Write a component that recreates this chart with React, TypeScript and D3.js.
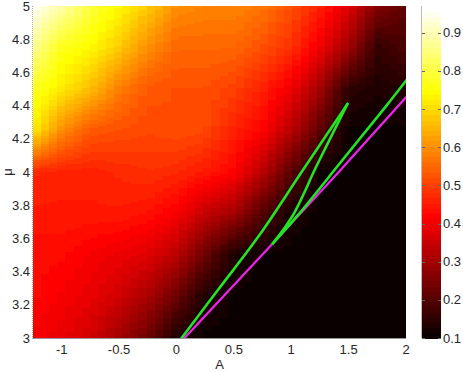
import React from 'react'
import * as d3 from 'd3'

// grid: columns are A, rows are mu
const aValues = [-1.25, -1, -0.75, -0.5, -0.25, 0, 0.25, 0.5, 0.75, 1, 1.25, 1.5, 1.75, 2]
const muValues = [3, 3.25, 3.5, 3.75, 4, 4.25, 4.5, 4.75, 5]

const rowMu300 = [0.41, 0.39, 0.36, 0.3, 0.23, 0.13, 0.11, 0.11, 0.11, 0.11, 0.11, 0.11, 0.11, 0.11]
const rowMu325 = [0.43, 0.41, 0.39, 0.36, 0.31, 0.23, 0.13, 0.11, 0.11, 0.11, 0.11, 0.11, 0.11, 0.11]
const rowMu350 = [0.43, 0.43, 0.41, 0.395, 0.38, 0.33, 0.23, 0.13, 0.11, 0.11, 0.11, 0.11, 0.11, 0.11]
const rowMu375 = [0.45, 0.45, 0.45, 0.45, 0.44, 0.41, 0.345, 0.3, 0.2, 0.12, 0.11, 0.11, 0.11, 0.11]
const rowMu400 = [0.47, 0.46, 0.46, 0.47, 0.48, 0.47, 0.45, 0.42, 0.33, 0.21, 0.11, 0.11, 0.11, 0.11]
const rowMu425 = [0.72, 0.6, 0.53, 0.52, 0.51, 0.52, 0.51, 0.46, 0.42, 0.33, 0.21, 0.11, 0.11, 0.11]
const rowMu450 = [0.78, 0.72, 0.66, 0.58, 0.53, 0.52, 0.52, 0.5, 0.46, 0.4, 0.3, 0.15, 0.13, 0.14]
const rowMu475 = [0.87, 0.77, 0.74, 0.68, 0.6, 0.55, 0.55, 0.55, 0.52, 0.48, 0.4, 0.3, 0.16, 0.19]
const rowMu500 = [0.96, 0.89, 0.8, 0.74, 0.68, 0.6, 0.59, 0.59, 0.57, 0.52, 0.46, 0.38, 0.26, 0.21]
const valueRows = [rowMu300, rowMu325, rowMu350, rowMu375, rowMu400, rowMu425, rowMu450, rowMu475, rowMu500]

// green curve: outer branch -> upper cusp -> inner branch -> lower cusp -> lower branch
const greenA = [0.045, 0.361, 0.723, 1.102, 1.49, 1.36, 1.216, 1.015, 0.84, 1.058, 1.45, 1.83, 2.0]
const greenMu = [3.0, 3.289, 3.62, 4.012, 4.41, 4.23, 4.03, 3.74, 3.57, 3.74, 4.075, 4.4, 4.55]
const greenCusps = [4, 8]
const magentaA = [0.07, 0.8, 1.4, 2.0]
const magentaMu = [3.0, 3.54, 3.99, 4.45]

const xTicks = [-1, -0.5, 0, 0.5, 1, 1.5, 2]
const yTicks = [3, 3.2, 3.4, 3.6, 3.8, 4, 4.2, 4.4, 4.6, 4.8, 5]
const cbTicks = [0.1, 0.2, 0.3, 0.4, 0.5, 0.6, 0.7, 0.8, 0.9]

const W = 463
const H = 372
const left = 33, right = 406, top = 6, bottom = 338
const cbLeft = 422, cbRight = 441
const cMin = 0.1, cMax = 0.97
const font = '"Liberation Sans", Arial, sans-serif'
const txt = '#262626'

// matlab hot(64)
function hot(v: number) {
  const m = 64, n = 24
  let idx = Math.floor(((v - cMin) / (cMax - cMin)) * m)
  idx = Math.max(0, Math.min(m - 1, idx)) + 1
  const r = idx <= n ? idx / n : 1
  const g = idx <= n ? 0 : idx <= 2 * n ? (idx - n) / n : 1
  const b = idx <= 2 * n ? 0 : (idx - 2 * n) / (m - 2 * n)
  return d3.rgb(r * 255, g * 255, b * 255).formatHex()
}

function sample(a: number, mu: number) {
  const i = Math.max(0, Math.min(aValues.length - 2, d3.bisectRight(aValues, a) - 1))
  const j = Math.max(0, Math.min(muValues.length - 2, d3.bisectRight(muValues, mu) - 1))
  const fa = (a - aValues[i]) / (aValues[i + 1] - aValues[i])
  const fm = (mu - muValues[j]) / (muValues[j + 1] - muValues[j])
  const v0 = valueRows[j][i] * (1 - fa) + valueRows[j][i + 1] * fa
  const v1 = valueRows[j + 1][i] * (1 - fa) + valueRows[j + 1][i + 1] * fa
  return v0 * (1 - fm) + v1 * fm
}

export default function App() {
  const x = d3.scaleLinear().domain([-1.25, 2]).range([left, right])
  const y = d3.scaleLinear().domain([3, 5]).range([bottom, top])
  const cb = d3.scaleLinear().domain([cMin, cMax]).range([bottom, top])

  // shaded cells, columns like the original's vertical bands
  const nCols = 46, nRows = 166
  const aStep = 3.25 / nCols, mStep = 2 / nRows
  const cells: { x: number; y: number; w: number; h: number; c: string }[] = []
  for (let ci = 0; ci < nCols; ci++) {
    const a0 = -1.25 + ci * aStep
    for (let ri = 0; ri < nRows; ri++) {
      const m0 = 3 + ri * mStep
      cells.push({
        x: x(a0),
        y: y(m0 + mStep),
        w: x(a0 + aStep) - x(a0) + 0.4,
        h: y(m0) - y(m0 + mStep) + 0.4,
        c: hot(sample(a0 + aStep / 2, m0 + mStep / 2)),
      })
    }
  }

  const curve = d3.line<number>()
    .x(i => x(greenA[i]))
    .y(i => y(greenMu[i]))
    .curve(d3.curveCatmullRom.alpha(0.5))
  const bounds = [0, ...greenCusps, greenA.length - 1]
  const greenPaths = bounds.slice(1).map((b, k) => curve(d3.range(bounds[k], b + 1)) || '')

  const magentaPath = d3.line<number>()
    .x(i => x(magentaA[i]))
    .y(i => y(magentaMu[i]))(d3.range(magentaA.length)) || ''

  const cbLevels = d3.range(64)

  return (
    <svg width={W} height={H} style={{ position: 'absolute', left: 0, top: 0, background: '#fff' }}>
      <defs>
        <clipPath id="plotclip">
          <rect x={left} y={top} width={right - left} height={bottom - top} />
        </clipPath>
      </defs>
      <g shapeRendering="crispEdges">
        {cells.map((d, i) => (
          <rect key={i} x={d.x} y={d.y} width={d.w} height={d.h} fill={d.c} />
        ))}
      </g>
      <g clipPath="url(#plotclip)" fill="none" strokeLinejoin="round" strokeLinecap="round">
        <path d={magentaPath} stroke="#ee22ee" strokeWidth={2.2} />
        {greenPaths.map((p, i) => (
          <path key={i} d={p} stroke="#22e622" strokeWidth={2.6} />
        ))}
      </g>
      {/* axes lines */}
      <line x1={left - 0.5} x2={left - 0.5} y1={top} y2={bottom + 0.5} stroke="#aaa" strokeDasharray="1,1" />
      <line x1={left - 0.5} x2={right} y1={bottom + 0.5} y2={bottom + 0.5} stroke="#999" />
      {xTicks.map(t => (
        <text key={t} x={x(t)} y={bottom + 16} textAnchor="middle" fontFamily={font} fontSize={13} fill={txt}>
          {String(t)}
        </text>
      ))}
      {yTicks.map(t => (
        <text key={t} x={left - 3} y={y(t)} dy="0.35em" textAnchor="end" fontFamily={font} fontSize={13} fill={txt}>
          {String(t)}
        </text>
      ))}
      <text x={(left + right) / 2} y={H - 3} textAnchor="middle" fontFamily={font} fontSize={13} fill={txt}>A</text>
      <text transform={`translate(8,${(top + bottom) / 2}) rotate(-90)`} dy="0.3em" textAnchor="middle" fontFamily={font} fontSize={13} fill={txt}>μ</text>

      {/* colorbar */}
      <g shapeRendering="crispEdges">
        {cbLevels.map(k => {
          const v0 = cMin + (k / 64) * (cMax - cMin)
          const v1 = cMin + ((k + 1) / 64) * (cMax - cMin)
          return (
            <rect key={k} x={cbLeft} y={cb(v1)} width={cbRight - cbLeft} height={cb(v0) - cb(v1) + 0.5}
              fill={hot((v0 + v1) / 2)} />
          )
        })}
        <line x1={cbLeft - 0.5} x2={cbLeft - 0.5} y1={top} y2={bottom} stroke="#bbb" />
        {cbTicks.map(t => (
          <g key={t}>
            <line x1={cbLeft} x2={cbLeft + 3} y1={Math.round(cb(t)) + 0.5} y2={Math.round(cb(t)) + 0.5} stroke="#666" />
            <line x1={cbRight - 3} x2={cbRight} y1={Math.round(cb(t)) + 0.5} y2={Math.round(cb(t)) + 0.5} stroke="#666" />
          </g>
        ))}
      </g>
      {cbTicks.map(t => (
        <text key={t} x={cbRight + 2} y={cb(t)} dy="0.35em" fontFamily={font} fontSize={13} fill={txt}>
          {String(t)}
        </text>
      ))}
    </svg>
  )
}
